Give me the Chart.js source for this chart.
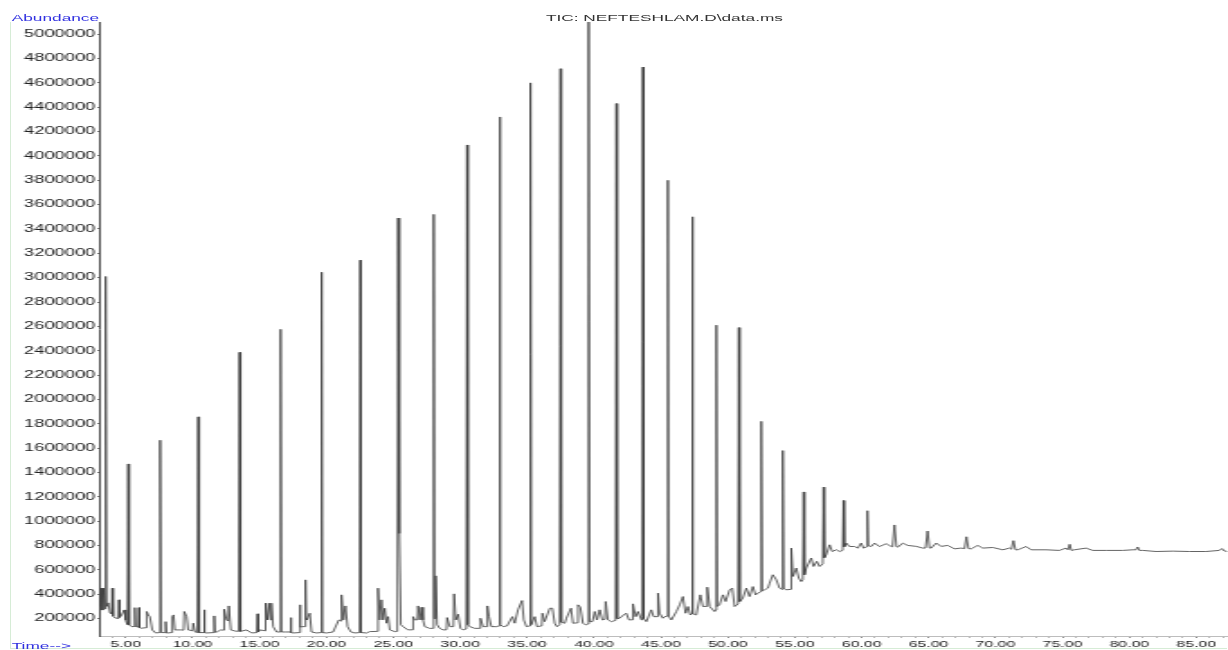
<!DOCTYPE html>
<html lang="en">
<head>
    <meta charset="UTF-8">
    <title>TIC: NEFTESHLAM.D\data.ms</title>
    <style>
        body {
            margin: 0;
            background-color: #ffffff;
            width: 1228px;
            height: 650px;
            overflow: hidden;
            position: relative;
            font-family: "Liberation Sans", Arial, sans-serif;
        }
        .frame {
            position: absolute;
            left: 10px;
            top: 22px;
            width: 1216px;
            height: 626px;
            border-left: 1px solid #d6ecd6;
            border-bottom: 1px solid #d6ecd6;
        }
        /* the original printout is stretched sideways, so draw narrow and scale it */
        .stretch {
            position: absolute;
            left: 0;
            top: 0;
            width: 682px;
            height: 650px;
            transform: scaleX(1.8006);
            transform-origin: 0 0;
        }
        .chart-box {
            position: absolute;
            left: 0;
            top: 0;
            width: 682px;
            height: 650px;
        }
        .label {
            position: absolute;
            white-space: nowrap;
            font-size: 9.6px;
            line-height: 10px;
        }
        #yTitle { left: 6.5px; top: 13px; color: #3030e0; }
        #xTitle { left: 6.5px; top: 641px; color: #3030e0; }
        #plotTitle { left: 369px; top: 13px; transform: translateX(-50%); color: #333333; }
    </style>
</head>
<body>
    <div class="frame"></div>
    <div class="stretch">
        <div class="chart-box">
            <canvas id="ticChart"></canvas>
        </div>
        <div class="label" id="yTitle">Abundance</div>
        <div class="label" id="xTitle">Time--&gt;</div>
        <div class="label" id="plotTitle">TIC: NEFTESHLAM.D\data.ms</div>
    </div>

    <script src="https://cdn.jsdelivr.net/npm/chart.js"></script>
    <script>
        // retention time, min (one line per stretch of the trace)
        const retentionTime = [
            3.08, 3.19, 3.27, 3.36, 3.44, 3.51, 3.58, 3.70, 3.83, 3.95, 4.00, 4.06, 4.20, 4.45, 4.50, 4.56, 4.70, 4.90, 5.00, 5.13, 5.19, 5.26, 5.45, 5.64, 5.69, 5.74, 5.82, 5.94, 5.99, 6.04, 6.14, 6.52, 6.57, 6.69, 6.81, 6.99, 7.24, 7.52, 7.58, 7.65,
            7.94, 7.99, 8.04, 8.14, 8.43, 8.48, 8.58, 8.68, 9.13, 9.33, 9.38, 9.56, 9.67, 10.00, 10.05, 10.18, 10.36, 10.42, 10.49, 10.82, 10.87, 10.92, 11.05, 11.57, 11.62, 11.67, 11.80, 12.12, 12.31, 12.36, 12.54, 12.66, 12.71, 12.86, 13.16, 13.45, 13.51, 13.58,
            14.04, 14.41, 14.81, 14.86, 14.91, 15.03, 15.41, 15.46, 15.60, 15.70, 15.83, 15.90, 16.02, 16.28, 16.52, 16.58, 16.64, 16.95, 17.29, 17.34, 17.39, 17.52, 17.97, 18.02, 18.07, 18.19, 18.39, 18.44, 18.49, 18.54, 18.76, 18.89, 19.26, 19.59, 19.65, 19.70,
            20.01, 20.50, 20.93, 21.08, 21.13, 21.28, 21.43, 21.58, 21.83, 22.12, 22.48, 22.53, 22.59, 23.00, 23.24, 23.81, 23.86, 23.99, 24.12, 24.24, 24.36, 24.49, 24.61, 24.74, 25.11, 25.30, 25.36, 25.42, 25.48, 25.56,
            25.73, 26.10, 26.43, 26.48, 26.60, 26.80, 26.85, 26.98, 27.10, 27.22, 27.35, 27.72, 27.96, 28.02, 28.08, 28.17, 28.27, 28.47, 28.72, 28.97, 29.02, 29.22, 29.49, 29.54, 29.67, 29.84, 30.02, 30.21, 30.45, 30.51, 30.57,
            30.71, 31.09, 31.46, 31.51, 31.71, 31.98, 32.03, 32.15, 32.33, 32.71, 32.89, 32.95, 33.01, 33.20, 33.50, 33.90, 34.07, 34.32, 34.62, 34.75, 34.95, 35.19, 35.25, 35.31,
            35.57, 35.74, 36.09, 36.14, 36.31, 36.69, 36.89, 37.06, 37.23, 37.43, 37.49, 37.55, 37.81, 37.93, 38.28, 38.43, 38.75, 38.80, 38.98, 39.17, 39.38, 39.54, 39.60, 39.66,
            39.88, 40.05, 40.22, 40.42, 40.62, 40.82, 40.87, 41.04, 41.29, 41.61, 41.67, 41.73, 41.91, 42.21, 42.41, 42.61, 42.86, 42.91, 43.11, 43.28, 43.54, 43.60, 43.65, 43.71,
            43.91, 44.28, 44.45, 44.73, 44.78, 44.90, 45.15, 45.28, 45.46, 45.52, 45.58, 45.78, 46.15, 46.40, 46.64, 46.84, 47.02, 47.19, 47.28, 47.34, 47.40,
            47.64, 47.94, 48.14, 48.41, 48.46, 48.64, 49.01, 49.08, 49.14, 49.20, 49.38, 49.63, 49.83, 50.13, 50.33, 50.50, 50.76, 50.82, 50.88,
            51.12, 51.38, 51.62, 51.87, 52.07, 52.24, 52.44, 52.50, 52.56, 52.74, 52.99, 53.12, 53.36, 53.62, 53.86, 54.05, 54.11, 54.17, 54.36, 54.69, 54.74, 54.86, 55.11, 55.30, 55.48, 55.60, 55.66, 55.72,
            55.86, 56.23, 56.40, 56.65, 56.85, 57.09, 57.15, 57.21, 57.35, 57.60, 57.80, 58.10, 58.34, 58.58, 58.64, 58.70, 58.84, 59.09, 59.46, 59.71, 59.96, 60.14, 60.37, 60.43, 60.49,
            60.71, 60.96, 61.33, 61.83, 62.20, 62.30, 62.45, 62.60, 62.70, 63.07, 63.44, 64.07, 64.57, 64.77, 64.92, 65.07, 65.19, 65.57, 65.94, 66.43, 66.93, 67.43, 67.68, 67.83, 67.98, 68.18, 68.67, 69.05, 69.79, 70.54, 71.04, 71.19, 71.34, 71.49, 71.66,
            72.29, 72.66, 73.78, 74.77, 75.27, 75.41, 75.54, 75.67, 75.89, 76.77, 77.26, 78.26, 79.50, 80.25, 80.49, 80.62, 80.75, 81.00, 82.00, 83.24, 84.48, 85.73, 86.72, 86.92, 87.10, 87.32
        ];

        // total ion current, same order as retentionTime
        const abundance = [
            300000, 450000, 270000, 450000, 280000, 3010000, 300000, 329000, 250000, 240000, 450000, 220000, 206000, 200000, 354000, 210000, 230000, 271000, 189000, 150000, 1470000, 148000, 134000, 135000, 290000, 135000, 134000, 130000, 290000, 125000, 121000, 125000, 258000, 230000, 215000, 107000, 82000, 85000, 1665000, 85000,
            85000, 175000, 82000, 82000, 85000, 216000, 230000, 107000, 107000, 105000, 258000, 216000, 107000, 100000, 162000, 90000, 85000, 1857000, 85000, 85000, 272000, 85000, 82000, 85000, 222000, 88000, 90000, 107000, 105000, 277000, 189000, 180000, 304000, 107000, 98000, 95000, 2387000, 95000,
            107000, 82000, 85000, 239000, 90000, 107000, 100000, 327000, 189000, 327000, 189000, 327000, 134000, 90000, 90000, 2576000, 90000, 90000, 90000, 208000, 85000, 82000, 85000, 313000, 130000, 134000, 134000, 518000, 200000, 189000, 244000, 90000, 82000, 85000, 3045000, 85000,
            82000, 90000, 189000, 180000, 395000, 189000, 304000, 134000, 90000, 82000, 85000, 3144000, 85000, 82000, 93000, 95000, 450000, 189000, 354000, 189000, 285000, 162000, 216000, 107000, 93000, 95000, 3490000, 900000, 930000, 150000,
            134000, 107000, 108000, 216000, 189000, 190000, 304000, 189000, 293000, 189000, 134000, 120000, 120000, 3520000, 200000, 551000, 150000, 120000, 107000, 108000, 208000, 134000, 134000, 403000, 189000, 236000, 120000, 107000, 115000, 4090000, 150000,
            134000, 120000, 120000, 203000, 134000, 134000, 304000, 216000, 134000, 134000, 140000, 4320000, 150000, 134000, 140000, 216000, 162000, 272000, 348000, 189000, 134000, 140000, 4600000, 150000,
            216000, 134000, 140000, 244000, 175000, 285000, 285000, 162000, 134000, 150000, 4716000, 170000, 162000, 203000, 285000, 162000, 165000, 313000, 293000, 162000, 148000, 155000, 5100000, 175000,
            175000, 258000, 189000, 272000, 189000, 195000, 340000, 189000, 175000, 185000, 4430000, 200000, 203000, 230000, 244000, 189000, 190000, 321000, 216000, 258000, 189000, 216000, 4730000, 200000,
            175000, 272000, 216000, 216000, 409000, 244000, 203000, 216000, 220000, 3800000, 220000, 189000, 258000, 313000, 381000, 244000, 299000, 230000, 240000, 3500000, 240000,
            230000, 395000, 299000, 300000, 458000, 299000, 258000, 270000, 2610000, 300000, 313000, 395000, 340000, 436000, 450000, 299000, 320000, 2590000, 340000,
            368000, 450000, 381000, 463000, 395000, 409000, 420000, 1820000, 430000, 436000, 450000, 491000, 560000, 518000, 450000, 440000, 1580000, 450000, 436000, 440000, 779000, 546000, 615000, 532000, 504000, 520000, 1240000, 560000,
            615000, 697000, 628000, 670000, 628000, 650000, 1280000, 700000, 724000, 806000, 751000, 765000, 751000, 760000, 1170000, 790000, 820000, 792000, 792000, 779000, 820000, 779000, 790000, 1086000, 800000,
            792000, 820000, 792000, 815000, 793000, 790000, 969000, 790000, 787000, 820000, 801000, 793000, 779000, 780000, 919000, 780000, 779000, 820000, 793000, 801000, 773000, 779000, 775000, 872000, 775000, 773000, 801000, 779000, 784000, 765000, 779000, 770000, 840000, 765000, 765000,
            792000, 765000, 765000, 760000, 779000, 765000, 810000, 760000, 765000, 779000, 760000, 760000, 760000, 765000, 765000, 788000, 760000, 760000, 751000, 754000, 751000, 751000, 760000, 775000, 755000, 751000
        ];

        const timeRange = [3.08, 87.32];
        const abundanceRange = [57000, 5100000];
        const timeTicks = [4, 5, 6, 7, 8, 9, 10, 11, 12, 13, 14, 15, 16, 17, 18, 19, 20, 21, 22, 23, 24, 25, 26, 27, 28, 29, 30,
            31, 32, 33, 34, 35, 36, 37, 38, 39, 40, 41, 42, 43, 44, 45, 46, 47, 48, 49, 50, 51, 52, 53, 54, 55, 56, 57, 58, 59, 60,
            61, 62, 63, 64, 65, 66, 67, 68, 69, 70, 71, 72, 73, 74, 75, 76, 77, 78, 79, 80, 81, 82, 83, 84, 85, 86, 87];
        const timeLabelEvery = 5;
        const abundanceTicks = [200000, 400000, 600000, 800000, 1000000, 1200000, 1400000, 1600000, 1800000, 2000000,
            2200000, 2400000, 2600000, 2800000, 3000000, 3200000, 3400000, 3600000, 3800000, 4000000,
            4200000, 4400000, 4600000, 4800000, 5000000];

        const fontFamily = '"Liberation Sans", Arial, sans-serif';

        const points = retentionTime.map((t, i) => ({ x: t, y: abundance[i] }));

        const ctx = document.getElementById('ticChart').getContext('2d');
        const ticChart = new Chart(ctx, {
            type: 'line',
            data: {
                datasets: [{
                    data: points,
                    borderColor: '#3c3c3c',
                    borderWidth: 0.8,
                    pointRadius: 0,
                    tension: 0,
                    fill: false
                }]
            },
            options: {
                responsive: true,
                maintainAspectRatio: false,
                animation: false,
                layout: {
                    padding: { top: 22, right: 0, bottom: 0, left: 0 }
                },
                plugins: {
                    legend: { display: false },
                    tooltip: { enabled: false }
                },
                scales: {
                    x: {
                        type: 'linear',
                        min: timeRange[0],
                        max: timeRange[1],
                        afterFit: (scale) => { scale.height = 14; },
                        afterBuildTicks: (scale) => { scale.ticks = timeTicks.map(v => ({ value: v })); },
                        border: { color: '#bdbdbd' },
                        grid: {
                            drawOnChartArea: false,
                            tickLength: 2,
                            tickColor: (c) => (c.tick && c.tick.value % timeLabelEvery === 0 ? '#888888' : '#b5b5b5')
                        },
                        ticks: {
                            autoSkip: false,
                            maxRotation: 0,
                            minRotation: 0,
                            padding: 1.5,
                            color: '#222222',
                            font: { family: fontFamily, size: 8.8 },
                            callback: (v) => (v % timeLabelEvery === 0 ? v.toFixed(2) : '')
                        }
                    },
                    y: {
                        type: 'linear',
                        min: abundanceRange[0],
                        max: abundanceRange[1],
                        afterFit: (scale) => { scale.width = 55.5; },
                        afterBuildTicks: (scale) => { scale.ticks = abundanceTicks.map(v => ({ value: v })); },
                        border: { color: '#4a4a4a' },
                        grid: {
                            drawOnChartArea: false,
                            tickLength: 1.5,
                            tickColor: '#777777'
                        },
                        ticks: {
                            autoSkip: false,
                            padding: 1,
                            color: '#222222',
                            font: { family: fontFamily, size: 10.2 },
                            callback: (v) => String(v)
                        }
                    }
                }
            }
        });
    </script>
</body>
</html>
